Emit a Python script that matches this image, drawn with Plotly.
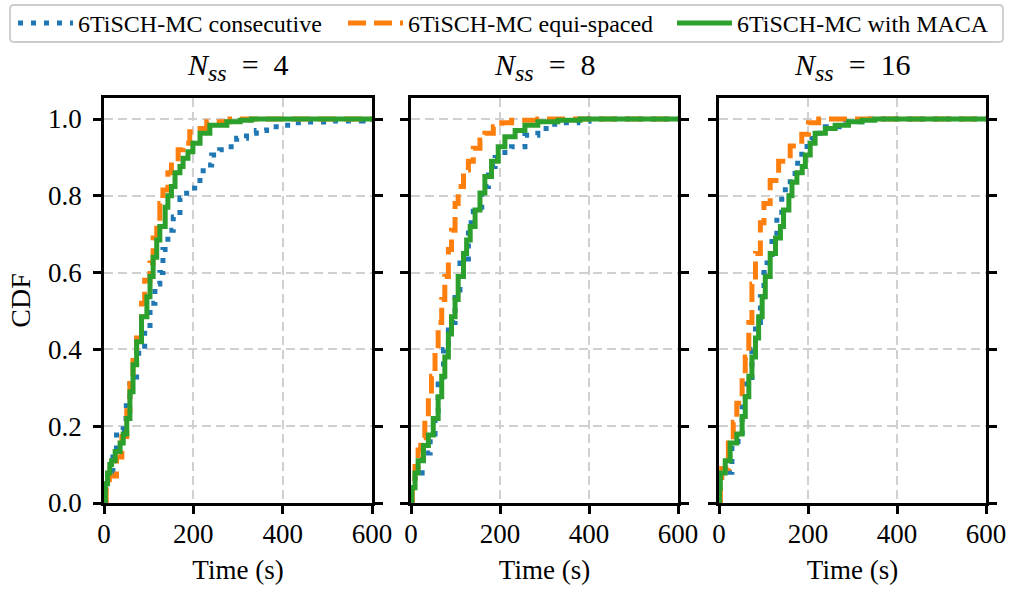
import plotly.graph_objects as go

# ---- data (time in s, empirical CDF) ----
p1_consec_t = [0, 4, 9, 20, 28, 43, 50, 58, 73, 91, 103, 114, 125, 132, 143, 155, 170, 185, 203, 222, 241, 259, 278, 297, 319, 341, 364, 394, 424, 453, 513, 580, 600]
p1_consec_cdf = [0, 0.05, 0.08, 0.12, 0.19, 0.22, 0.26, 0.31, 0.39, 0.45, 0.52, 0.57, 0.60, 0.66, 0.71, 0.745, 0.794, 0.82, 0.84, 0.88, 0.906, 0.92, 0.928, 0.95, 0.963, 0.97, 0.98, 0.984, 0.99, 0.992, 0.995, 0.998, 1.0]
p1_equi_t = [0, 5, 12, 28, 40, 51, 58, 65, 73, 84, 91, 103, 110, 118, 125, 132, 143, 151, 166, 177, 192, 207, 230, 282, 600]
p1_equi_cdf = [0, 0.04, 0.07, 0.12, 0.173, 0.24, 0.32, 0.38, 0.45, 0.52, 0.58, 0.625, 0.69, 0.73, 0.78, 0.815, 0.86, 0.89, 0.92, 0.937, 0.967, 0.975, 0.993, 1.0, 1.0]
p1_maca_t = [0, 3, 8, 13, 17, 25, 36, 43, 51, 58, 65, 73, 84, 96, 103, 110, 118, 125, 137, 143, 151, 159, 170, 177, 188, 199, 215, 237, 275, 305, 330, 600]
p1_maca_cdf = [0, 0.05, 0.078, 0.1, 0.11, 0.134, 0.156, 0.18, 0.22, 0.29, 0.36, 0.42, 0.485, 0.537, 0.59, 0.64, 0.685, 0.72, 0.77, 0.80, 0.824, 0.86, 0.876, 0.898, 0.915, 0.937, 0.963, 0.984, 0.993, 0.997, 1.0, 1.0]

p2_consec_t = [0, 3, 9, 25, 43, 54, 61, 73, 84, 99, 110, 129, 140, 159, 174, 189, 211, 226, 256, 285, 323, 375, 400, 600]
p2_consec_cdf = [0, 0.04, 0.078, 0.13, 0.18, 0.24, 0.31, 0.40, 0.47, 0.555, 0.625, 0.73, 0.76, 0.824, 0.876, 0.90, 0.92, 0.928, 0.958, 0.975, 0.99, 0.994, 1.0, 1.0]
p2_equi_t = [0, 3, 9, 16, 22, 31, 39, 46, 54, 61, 69, 76, 84, 91, 99, 106, 118, 129, 140, 155, 166, 185, 204, 226, 285, 600]
p2_equi_cdf = [0, 0.05, 0.095, 0.138, 0.17, 0.225, 0.277, 0.33, 0.40, 0.47, 0.53, 0.59, 0.66, 0.71, 0.78, 0.824, 0.867, 0.89, 0.924, 0.945, 0.963, 0.98, 0.99, 0.997, 1.0, 1.0]
p2_maca_t = [0, 2, 9, 16, 28, 39, 50, 61, 69, 76, 84, 91, 99, 106, 118, 125, 133, 144, 155, 166, 181, 196, 211, 234, 256, 285, 330, 380, 600]
p2_maca_cdf = [0, 0.04, 0.078, 0.11, 0.15, 0.177, 0.22, 0.277, 0.33, 0.38, 0.44, 0.485, 0.53, 0.59, 0.65, 0.685, 0.72, 0.763, 0.807, 0.85, 0.89, 0.928, 0.954, 0.97, 0.984, 0.993, 0.997, 1.0, 1.0]

p3_consec_t = [0, 3, 6, 29, 52, 59, 74, 82, 93, 101, 108, 119, 130, 141, 149, 160, 171, 186, 198, 209, 239, 284, 321, 600]
p3_consec_cdf = [0, 0.04, 0.08, 0.16, 0.25, 0.31, 0.40, 0.47, 0.537, 0.60, 0.625, 0.69, 0.745, 0.80, 0.83, 0.85, 0.885, 0.92, 0.945, 0.963, 0.98, 0.993, 1.0, 1.0]
p3_equi_t = [0, 3, 6, 21, 32, 40, 52, 59, 67, 74, 82, 93, 101, 115, 134, 160, 186, 201, 224, 600]
p3_equi_cdf = [0, 0.05, 0.09, 0.156, 0.21, 0.26, 0.33, 0.38, 0.47, 0.57, 0.65, 0.73, 0.78, 0.84, 0.89, 0.93, 0.96, 0.99, 1.0, 1.0]
p3_maca_t = [0, 1, 3, 14, 25, 40, 52, 59, 67, 74, 82, 89, 97, 104, 115, 127, 138, 145, 157, 164, 175, 187, 194, 205, 216, 239, 261, 291, 321, 350, 600]
p3_maca_cdf = [0, 0.04, 0.078, 0.11, 0.156, 0.18, 0.225, 0.277, 0.33, 0.38, 0.43, 0.485, 0.537, 0.59, 0.65, 0.69, 0.72, 0.763, 0.80, 0.835, 0.86, 0.876, 0.906, 0.937, 0.963, 0.975, 0.984, 0.993, 0.997, 1.0, 1.0]

series_names = ["6TiSCH-MC consecutive", "6TiSCH-MC equi-spaced", "6TiSCH-MC with MACA"]
panel_titles = ["4", "8", "16"]
x_ticks = [0, 200, 400, 600]
y_ticks = [0.0, 0.2, 0.4, 0.6, 0.8, 1.0]

panels = [
    [(p1_consec_t, p1_consec_cdf), (p1_equi_t, p1_equi_cdf), (p1_maca_t, p1_maca_cdf)],
    [(p2_consec_t, p2_consec_cdf), (p2_equi_t, p2_equi_cdf), (p2_maca_t, p2_maca_cdf)],
    [(p3_consec_t, p3_consec_cdf), (p3_equi_t, p3_equi_cdf), (p3_maca_t, p3_maca_cdf)],
]

colors = ["#1f77b4", "#ff7f0e", "#2ca02c"]
dashes = ["5px,8px", "18px,8px", "solid"]
legend_ids = ["legend", "legend2", "legend3"]

FONT = "Liberation Serif, Times New Roman, serif"
W, H = 1012, 590
px_domains = [(104, 372), (411, 678), (719, 986)]
xdomains = [(a / W, b / W) for a, b in px_domains]
ydomain = [87 / H, (H - 98) / H]

fig = go.Figure()
for i, panel in enumerate(panels):
    xa = "x" if i == 0 else f"x{i+1}"
    ya = "y" if i == 0 else f"y{i+1}"
    for j, (t, c) in enumerate(panel):
        fig.add_trace(go.Scatter(
            x=t, y=c, mode="lines", line_shape="hv",
            line=dict(color=colors[j], width=5, dash=dashes[j]),
            name=series_names[j], legendgroup=series_names[j], legend=legend_ids[j],
            showlegend=(i == 0), xaxis=xa, yaxis=ya,
        ))

axis_common = dict(
    showline=True, linecolor="black", linewidth=2.5,
    ticks="outside", ticklen=8, tickwidth=2.5, tickcolor="black",
    showgrid=True, gridcolor="#d0d0d0", gridwidth=2, griddash="9px,5px",
    zeroline=False, tickfont=dict(family=FONT, size=27, color="black"),
)

layout = dict(
    width=W, height=H,
    margin=dict(l=0, r=0, t=0, b=0, autoexpand=False),
    plot_bgcolor="white", paper_bgcolor="white",
    font=dict(family=FONT, color="black", size=24),
    annotations=[], shapes=[],
)

legend_x_px = [13, 343, 672]
for j, lid in enumerate(legend_ids):
    layout[lid] = dict(
        orientation="h", x=legend_x_px[j] / W, xanchor="left",
        y=1 - 23.5 / H, yanchor="middle", bgcolor="rgba(0,0,0,0)",
        borderwidth=0, itemwidth=55,
        font=dict(family=FONT, size=24, color="black"),
    )

# legend frame (rounded rectangle)
x0, x1 = 10 / W, 1003 / W
y0, y1 = 1 - 42 / H, 1 - 5 / H
rx, ry = 4 / W, 4 / H
layout["shapes"].append(dict(
    type="path", xref="paper", yref="paper", layer="below",
    path=(f"M{x0+rx},{y0} L{x1-rx},{y0} Q{x1},{y0} {x1},{y0+ry} L{x1},{y1-ry} "
          f"Q{x1},{y1} {x1-rx},{y1} L{x0+rx},{y1} Q{x0},{y1} {x0},{y1-ry} "
          f"L{x0},{y0+ry} Q{x0},{y0} {x0+rx},{y0} Z"),
    line=dict(color="#cccccc", width=1.8), fillcolor="rgba(255,255,255,0.8)",
))

for i in range(3):
    sfx = "" if i == 0 else str(i + 1)
    layout["xaxis" + sfx] = dict(
        axis_common, domain=list(xdomains[i]), range=[0, 600],
        tickvals=x_ticks, mirror=True, anchor="y" + sfx, ticklabelstandoff=-3,
        title=dict(text="Time (s)", font=dict(family=FONT, size=27), standoff=12),
    )
    ydict = dict(
        axis_common, domain=ydomain, range=[0, 1.0547],
        tickvals=y_ticks, ticktext=[f"{v:.1f}" for v in y_ticks],
        mirror="ticks", anchor="x" + sfx, showticklabels=(i == 0), ticklabelstandoff=6,
    )
    if i == 0:
        ydict["title"] = dict(text="CDF", font=dict(family=FONT, size=28), standoff=10)
    layout["yaxis" + sfx] = ydict
    layout["annotations"].append(dict(
        text=(f"<i>N</i><sub><i><span style='font-size:24px'>ss</span></i></sub>"
              f"&nbsp;&nbsp;=&nbsp;&nbsp;{panel_titles[i]}"),
        xref="paper", yref="paper",
        x=(xdomains[i][0] + xdomains[i][1]) / 2, y=ydomain[1], xanchor="center", yanchor="bottom",
        yshift=10, showarrow=False, font=dict(family=FONT, size=30, color="black"),
    ))

fig.update_layout(**layout)
fig.write_html("out.html")
